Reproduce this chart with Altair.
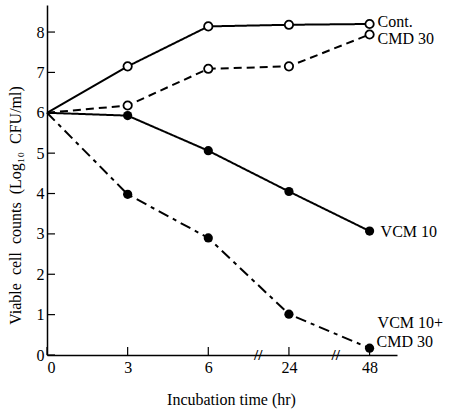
import altair as alt
import pandas as pd

# ---- data ----
time_labels = ["0", "3", "6", "24", "48"]
time_index = [0, 1, 2, 3, 4]
cont = [6.0, 7.15, 8.14, 8.18, 8.2]
cmd30 = [6.0, 6.18, 7.09, 7.15, 7.94]
vcm10 = [6.0, 5.93, 5.06, 4.05, 3.07]
vcm10_cmd30 = [6.0, 3.98, 2.9, 1.01, 0.17]
series_names = ["Cont.", "CMD 30", "VCM 10", "VCM 10+CMD 30"]
y_ticks = [0, 1, 2, 3, 4, 5, 6, 7, 8]
break_positions = [2.62, 3.58]

rows = []
for name, vals in zip(series_names, [cont, cmd30, vcm10, vcm10_cmd30]):
    for i, v in zip(time_index, vals):
        rows.append({"series": name, "t": i, "v": v})
df = pd.DataFrame(rows)
ticks_df = pd.DataFrame({"y": y_ticks})
xt_df = pd.DataFrame({"t": time_index})
brk_df = pd.DataFrame({"t": break_positions, "v": [0] * len(break_positions)})

FONT = "Liberation Serif"
label_expr = "[" + ",".join("'%s'" % s for s in time_labels) + "][datum.value]"
y_title = "\u2002".join(["Viable", "cell", "counts", "(Log₁₀", "CFU/ml)"])

xscale = alt.Scale(domain=[0, 4.34], nice=False, zero=False)
yscale = alt.Scale(domain=[0, 8.67], nice=False)

x_enc = alt.X("t:Q", scale=xscale,
              axis=alt.Axis(values=time_index, labelExpr=label_expr, ticks=False,
                            grid=False, domainColor="black", domainWidth=1.5,
                            labelFont=FONT, labelFontSize=16, labelColor="black",
                            labelPadding=4,
                            title="Incubation time (hr)", titleFont=FONT,
                            titleFontSize=16, titleFontWeight="normal",
                            titleColor="black", titleX=184, titleY=44,
                            titleBaseline="middle", titleAlign="center"))
y_enc = alt.Y("v:Q", scale=yscale,
              axis=alt.Axis(values=y_ticks, ticks=False, grid=False,
                            domainColor="black", domainWidth=1.5,
                            labelFont=FONT, labelFontSize=16, labelColor="black",
                            labelPadding=3,
                            title=y_title, titleFont=FONT,
                            titleFontSize=16, titleFontWeight="normal",
                            titleColor="black", titleX=-32, titleY=200,
                            titleAngle=-90, titleBaseline="middle",
                            titleAlign="center"))

base = alt.Chart(df)

lines = base.mark_line(color="black", strokeWidth=2).encode(
    x=x_enc, y=y_enc,
    strokeDash=alt.StrokeDash("series:N", legend=None,
                              scale=alt.Scale(domain=series_names,
                                              range=[[1, 0], [8, 5], [1, 0], [11, 5, 4, 5]])),
    detail="series:N",
)

open_pts = base.transform_filter(
    "datum.t > 0 && (datum.series == 'Cont.' || datum.series == 'CMD 30')"
).mark_point(shape="circle", size=70, filled=True, fill="white",
             stroke="black", strokeWidth=1.8, opacity=1).encode(x="t:Q", y="v:Q")

filled_pts = base.transform_filter(
    "datum.t > 0 && (datum.series == 'VCM 10' || datum.series == 'VCM 10+CMD 30')"
).mark_point(shape="circle", size=85, filled=True, color="black", opacity=1).encode(
    x="t:Q", y="v:Q")

# inward y ticks and x ticks
ytick_marks = alt.Chart(ticks_df).mark_rule(color="black", strokeWidth=1.2).encode(
    y=alt.Y("y:Q", scale=yscale), x=alt.value(0), x2=alt.value(8))
xtick_marks = alt.Chart(xt_df).mark_rule(color="black", strokeWidth=1.2).encode(
    x=alt.X("t:Q", scale=xscale), y=alt.value(350), y2=alt.value(342))

breaks = alt.Chart(brk_df).mark_text(text="//", font=FONT, fontSize=15,
                                     color="black", fontWeight="bold").encode(
    x=alt.X("t:Q", scale=xscale), y=alt.Y("v:Q", scale=yscale))

last = base.transform_filter("datum.t == 4")
def lab(series, text, dx, dy):
    return last.transform_filter(alt.datum.series == series).mark_text(
        text=text, align="left", baseline="middle", dx=dx, dy=dy,
        font=FONT, fontSize=16, color="black").encode(x="t:Q", y="v:Q")

labels = [
    lab("Cont.", "Cont.", 8, -2),
    lab("CMD 30", "CMD 30", 8, 5),
    lab("VCM 10", "VCM 10", 11, 1),
    lab("VCM 10+CMD 30", "VCM 10+", 8, -25),
    lab("VCM 10+CMD 30", "CMD 30", 7, -6),
]

chart = alt.layer(lines, open_pts, filled_pts, ytick_marks, xtick_marks, breaks,
                  *labels).properties(
    width=350, height=350,
    autosize=alt.AutoSizeParams(type="none"),
    padding={"left": 47, "top": 5, "right": 62, "bottom": 54},
    background="white",
).configure_view(stroke=None)

chart.save("out.html", embed_options={"renderer": "svg", "actions": False})
